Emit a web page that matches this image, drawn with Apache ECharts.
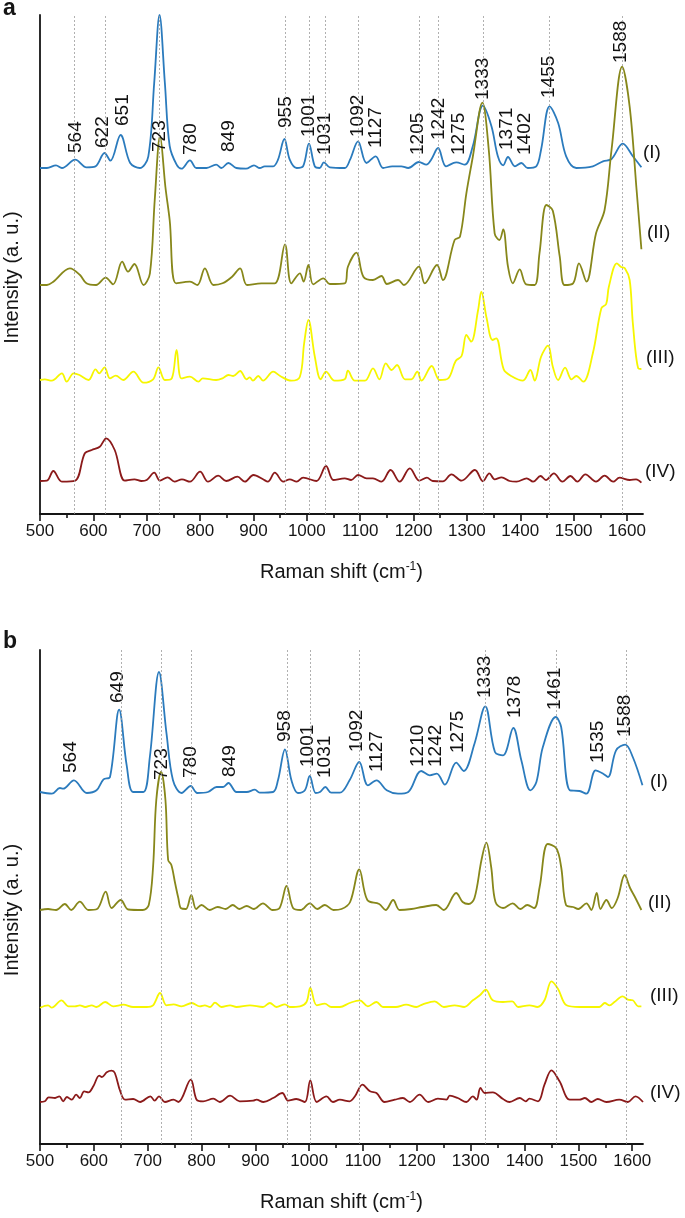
<!DOCTYPE html>
<html>
<head>
<meta charset="utf-8">
<script src="https://cdn.jsdelivr.net/npm/echarts@6/dist/echarts.min.js"></script>
<style>
  html, body { margin: 0; padding: 0; background: #fff; }
  #chart { width: 685px; height: 1218px; }
</style>
</head>
<body>
<div id="chart"></div>
<script>
// Raman spectra, [shift (cm-1), intensity above the trace baseline (a.u.)]
const aTraceI = [[500,0],[513,0],[530,2.7],[541,0],[566,8.3],[587,0.7],[604,1.7],[621,15],[632,7.3],[651,33],[669,5],[687,0],[703,11.7],[714,85],[724,153],[734,85],[743,22],[756,3.3],[765,-0.7],[781,7.7],[793,0],[812,0],[830,3.3],[840,0],[853,5],[868,0],[886,-0.7],[901,2.7],[912,0],[921,1.7],[937,1.7],[946,8.3],[958,29],[968,8.3],[981,0],[993,1.7],[1004,24.3],[1015,1.7],[1024,0],[1032,5.7],[1043,0.7],[1071,0],[1081,8.3],[1096,26.7],[1112,5],[1129,11.7],[1143,0],[1160,1.7],[1177,1.7],[1190,0],[1210,6],[1224,3.3],[1233,8.3],[1246,20],[1261,1.7],[1280,5.7],[1296,3.3],[1311,21.7],[1330,62.3],[1346,41.7],[1358,11.7],[1368,2.7],[1377,11],[1390,1.7],[1402,5],[1414,0],[1430,1.7],[1439,18.3],[1455,61.7],[1471,45],[1486,11.7],[1505,0],[1536,1.7],[1555,6.7],[1571,9],[1592,24.3],[1611,11.7],[1627,0.7]];
const aTraceII = [[500,0],[513,0],[525,3.3],[556,16.7],[575,10],[587,1.7],[605,0],[623,7.3],[637,0.7],[654,23.3],[665,13.3],[677,21],[694,0],[706,11.7],[715,85],[725,149],[735,98],[743,65],[755,1.7],[781,3.3],[795,0],[809,16.7],[825,0],[842,1.7],[860,8.3],[875,16.7],[888,0],[915,1.7],[940,1.7],[959,40.7],[971,1.7],[987,11.7],[994,3.3],[1003,20],[1012,0.7],[1031,6.7],[1043,1],[1071,1.7],[1077,18.3],[1093,32.3],[1106,8.3],[1124,5],[1140,9],[1150,1],[1171,5],[1182,0],[1210,18.3],[1221,1.7],[1244,20],[1255,5],[1277,45],[1287,48.3],[1299,91.7],[1311,128],[1329,182.3],[1341,135],[1352,51.7],[1361,45],[1368,55.7],[1377,18.3],[1386,1.7],[1399,15.7],[1411,0.7],[1427,0],[1436,31.7],[1449,80],[1461,74.3],[1474,28.3],[1483,0],[1499,1.7],[1510,21.7],[1524,3.3],[1542,51.7],[1558,75],[1571,135],[1591,218.3],[1605,178.3],[1618,95],[1627,35.7]];
const aTraceIII = [[500,0],[509,0.7],[522,-0.7],[541,6.7],[550,-1.7],[563,6.7],[574,5],[591,0],[604,10.7],[611,6.7],[621,12.7],[631,1.7],[642,4.3],[656,0],[675,8.3],[694,-2.7],[712,0.7],[722,12.7],[734,0],[747,1.7],[756,30],[765,1.7],[781,3.3],[797,-1.7],[805,1.7],[830,0],[842,1.7],[853,5],[862,4],[875,9],[887,0.7],[893,2.7],[899,-0.7],[909,4],[918,-0.7],[937,8.3],[950,4],[971,-0.7],[987,3.3],[995,36.7],[1003,60],[1015,23.3],[1026,0.7],[1036,8.3],[1052,-0.7],[1071,0.7],[1077,9.3],[1090,-0.7],[1109,-0.7],[1124,11.7],[1136,0.7],[1148,16.7],[1159,10],[1169,15],[1184,0.7],[1196,0.7],[1207,8.3],[1215,-0.7],[1234,14],[1249,0],[1265,1.7],[1279,19],[1290,24],[1299,45],[1308,38.3],[1321,70],[1327,88.3],[1337,61.7],[1348,40],[1355,41.7],[1369,10.7],[1383,4],[1405,-0.7],[1419,10],[1427,-0.7],[1439,23.3],[1452,34.3],[1461,13.3],[1471,0],[1484,12.3],[1496,0.7],[1505,4],[1518,-1.7],[1536,26.7],[1552,71.7],[1561,76],[1566,93.3],[1581,116.7],[1589,113],[1596,111.7],[1605,100],[1611,56.7],[1621,11.7],[1627,11]];
const aTraceIV = [[500,0],[513,0.3],[525,10],[541,-0.7],[566,0.3],[584,27.7],[597,31],[612,34.3],[624,42.7],[640,31],[659,0.3],[677,1.7],[690,0],[700,1],[714,8.3],[725,0.3],[739,3.7],[752,-0.7],[766,1.7],[781,-0.7],[800,9.3],[815,-0.7],[834,5.3],[849,0],[870,4.3],[884,-0.7],[900,6],[918,1.7],[927,-0.7],[940,8.3],[956,-0.7],[968,1.7],[981,-0.7],[993,3.3],[1018,0],[1036,15],[1050,1],[1071,2.7],[1083,1],[1096,6],[1112,2.7],[1124,2.7],[1140,-0.7],[1157,11],[1174,-0.7],[1193,12.7],[1211,0.3],[1225,3.3],[1236,0],[1255,-0.3],[1271,6.7],[1290,0.3],[1315,11],[1330,-0.3],[1342,7.7],[1352,1.7],[1365,3.7],[1380,0],[1393,-0.7],[1412,2.7],[1424,-0.7],[1438,5],[1448,1],[1463,7.7],[1479,-0.7],[1494,5],[1507,-0.7],[1522,6.7],[1542,-0.7],[1558,5.3],[1574,-0.7],[1586,3.3],[1605,1],[1617,1.7],[1627,-1.7]];

const bTraceI = [[500,1],[522,-0.7],[537,5],[543,4.3],[563,12.7],[587,0],[605,2.7],[618,13.7],[630,16],[647,83.3],[661,27.7],[673,1],[692,1],[704,36],[721,121],[735,59.3],[747,12.7],[763,0],[780,7],[792,0],[812,1],[828,6],[840,6],[850,10],[865,1],[884,1],[899,3.3],[908,0.3],[933,1],[942,12.7],[955,43.7],[967,12.7],[979,0],[992,2.7],[1001,17],[1012,0],[1020,1],[1030,6],[1041,0.3],[1057,0.3],[1075,12.7],[1093,31],[1109,7.7],[1125,12.7],[1144,2.7],[1165,-0.7],[1184,1],[1208,22],[1224,17.7],[1237,19.3],[1252,8.3],[1273,30.3],[1287,22],[1307,49.3],[1327,86.7],[1345,41],[1360,37.7],[1379,65],[1394,32.7],[1411,2.7],[1422,11],[1434,46],[1458,76],[1468,66],[1484,2.7],[1502,2],[1515,-0.7],[1532,22.7],[1546,19.3],[1555,16],[1570,42.7],[1587,48.3],[1601,36],[1619,7.7]];
const bTraceII = [[500,0],[515,1],[530,0],[546,6],[558,0],[574,8.3],[590,0],[606,1],[622,18.3],[633,2],[650,10],[664,0.5],[691,0],[702,5],[710,43],[716,110],[725,138.3],[733,110],[738,50],[744,45],[751,26.7],[757,11.7],[762,1.7],[771,1],[781,15],[790,1],[800,5],[815,0],[830,3],[845,1],[858,5],[870,1],[884,4],[897,1],[914,6.7],[932,0],[945,2],[958,24],[970,2],[984,0],[1001,6.7],[1015,1],[1029,5],[1045,0],[1060,1],[1076,8],[1093,40.7],[1108,10],[1130,6],[1142,0],[1156,10],[1168,0],[1190,1],[1210,3],[1236,5],[1250,0],[1273,17],[1285,8],[1296,6],[1307,12],[1320,50],[1329,67.3],[1338,43],[1346,8],[1360,2],[1378,6.7],[1392,1],[1405,5],[1418,2],[1428,23],[1443,66],[1459,61.7],[1468,43],[1477,5],[1490,3],[1500,1],[1515,6.7],[1524,0],[1534,17],[1541,1],[1552,10],[1562,2],[1573,12],[1586,35],[1596,22],[1605,13],[1617,0]];
const bTraceIII = [[500,-0.7],[515,1.7],[522,-0.7],[540,6.7],[553,0.7],[565,0.7],[574,1.7],[584,0],[596,1.7],[605,0],[621,5],[636,0.7],[655,2.3],[673,0],[698,0],[710,1.7],[723,14],[735,1.7],[748,2.7],[763,0.7],[782,4],[797,0.7],[806,1.7],[816,0],[825,4.3],[837,0],[853,1.7],[865,0],[890,1.7],[914,0],[927,4],[939,0],[955,2.7],[964,0],[983,0.7],[995,5],[1002,19.3],[1014,1.7],[1029,3.3],[1041,0],[1057,0],[1075,4],[1094,6.7],[1109,0.7],[1125,5],[1137,0],[1161,0],[1180,2.3],[1199,0],[1211,2.7],[1233,5.7],[1250,0],[1270,1.7],[1288,0],[1304,6.7],[1317,11.7],[1328,17.3],[1341,6.7],[1360,5],[1377,5.7],[1388,0],[1409,1.7],[1424,0],[1437,6.7],[1450,25.7],[1462,18.3],[1478,1.7],[1502,0],[1539,0],[1549,4],[1558,1.7],[1567,5],[1582,10.7],[1592,7.3],[1601,6.7],[1611,0.7],[1617,0.7]];
const bTraceIV = [[500,0],[509,0.7],[516,4.7],[528,4],[536,5.7],[543,0.7],[550,5],[559,2.3],[567,7.3],[574,4],[582,10.7],[590,9.7],[599,15.7],[610,26.3],[615,25],[624,29.7],[633,31.3],[639,29],[649,10.7],[658,2.3],[673,3],[686,0],[705,5.7],[713,1.3],[721,5.7],[732,0],[748,2.3],[757,0],[780,22.3],[791,2.3],[803,0.7],[822,3.3],[834,0],[853,6.3],[871,0.7],[896,1.3],[902,2.3],[915,0],[933,4],[950,9],[961,1.3],[976,3],[992,0],[1002,21.7],[1014,0],[1032,5.7],[1044,0],[1057,2.3],[1075,0.7],[1085,5.7],[1099,17.3],[1113,10.7],[1125,9],[1140,0],[1159,2.3],[1174,4],[1187,0],[1205,7.3],[1221,0],[1239,3.3],[1255,2.3],[1261,6.3],[1276,4],[1292,0],[1304,5.7],[1311,2.3],[1318,14],[1326,9],[1341,9.7],[1360,3],[1372,0],[1391,4],[1402,0.7],[1409,3.3],[1425,0.7],[1437,17.3],[1450,31.7],[1465,20.7],[1484,2.3],[1502,2.3],[1512,4],[1524,0],[1536,3],[1552,0],[1576,2.3],[1592,0],[1606,5.7],[1620,0]];

// vertical offsets of traces (I)..(IV)
const aOffsets = [346, 229, 134, 33];
const bOffsets = [351, 234, 137, 42];

// dotted reference lines
const aMarkers = [564, 623, 724, 960, 1005, 1035, 1096, 1210, 1246, 1330, 1454, 1591];
const bMarkers = [650, 725, 781, 959, 1002, 1093, 1327, 1459, 1588];

// peak labels: [text, shift, height where the text starts]
const aPeakLabels = [['564',567,361],['622',618,366],['651',655,388],['723',724,362],['780',782,359],['849',854,362],['955',961,386],['1001',1004,377],['1031',1034,359],['1092',1096,377],['1127',1129,366],['1205',1208,359],['1242',1247,374],['1275',1285,359],['1333',1330,414],['1371',1374,364],['1402',1408,359],['1455',1454,416],['1588',1589,451]];
const bPeakLabels = [['564',558,371],['649',645,441],['723',726,364],['780',780,366],['849',853,367],['958',955,402],['1001',998,377],['1031',1029,366],['1092',1089,392],['1127',1125,372],['1210',1202,377],['1242',1236,377],['1275',1276,391],['1333',1327,446],['1378',1382,426],['1461',1456,434],['1535',1536,381],['1588',1586,407]];

const traceNames = ['(I)', '(II)', '(III)', '(IV)'];
const xTicks = [500, 600, 700, 800, 900, 1000, 1100, 1200, 1300, 1400, 1500, 1600];
const xMinorTicks = [550, 650, 750, 850, 950, 1050, 1150, 1250, 1350, 1450, 1550];

const FONT = '"Liberation Sans", Arial, sans-serif';
const COLORS = ['#2b7bbd', '#87871a', '#f6f600', '#8b1a1a'];
const INK = '#151515';

const chart = echarts.init(document.getElementById('chart'), null, { renderer: 'canvas' });

function mainXAxis(gridIndex, max) {
    return {
        type: 'value', gridIndex, min: 500, max, position: 'bottom',
        axisLine: { show: true, onZero: false, lineStyle: { color: INK, width: 1.8 } },
        axisTick: { show: true, length: 7, customValues: xTicks, lineStyle: { color: INK, width: 1.6 } },
        axisLabel: {
            show: true, customValues: xTicks, margin: 9, fontSize: 17, color: INK, fontFamily: FONT,
            formatter: v => String(v),
        },
        splitLine: { show: false },
        name: 'Raman shift (cm{sup|-1})', nameLocation: 'middle', nameGap: 47,
        nameTextStyle: {
            fontSize: 20, color: INK, fontFamily: FONT,
            rich: { sup: { fontSize: 12, color: INK, fontFamily: FONT, verticalAlign: 'top', lineHeight: 22 } },
        },
    }
}

function minorXAxis(gridIndex, max) {
    return {
        type: 'value', gridIndex, min: 500, max, position: 'bottom',
        axisLine: { show: false },
        axisTick: { show: true, length: 4, customValues: xMinorTicks, lineStyle: { color: INK, width: 1.6 } },
        axisLabel: { show: false },
        splitLine: { show: false },
    }
}

function yAxis(gridIndex, max) {
    return {
        type: 'value', gridIndex, min: 0, max,
        axisLine: { show: true, onZero: false, lineStyle: { color: INK, width: 1.8 } },
        axisTick: { show: false },
        axisLabel: { show: false },
        splitLine: { show: false },
        name: 'Intensity (a. u.)', nameLocation: 'middle', nameGap: 18,
        nameTextStyle: { fontSize: 20, color: INK, fontFamily: FONT, padding: [0, 26, 0, 0] },
    }
}

function panelSeries(traces, offsets, markers, peakLabels, xIdx, yIdx) {
    const out = []
    out.push({
        type: 'line', xAxisIndex: xIdx, yAxisIndex: yIdx, data: [], z: 1, silent: true,
        markLine: {
            silent: true, symbol: ['none', 'none'], label: { show: false },
            lineStyle: { color: '#9c9c9c', width: 0.8, type: [2, 2] },
            data: markers.map(v => ({ xAxis: v })),
        },
    })
    traces.forEach((t, i) => {
        out.push({
            type: 'line', xAxisIndex: xIdx, yAxisIndex: yIdx, z: 2,
            name: traceNames[i], symbol: 'none', smooth: 0.35, clip: false,
            lineStyle: { color: COLORS[i], width: 1.8 },
            data: t.map(p => [p[0], p[1] + offsets[i]]),
        })
    })
    out.push({
        type: 'scatter', xAxisIndex: xIdx, yAxisIndex: yIdx, z: 3, silent: true,
        symbolSize: 1, itemStyle: { color: 'rgba(0,0,0,0)' },
        data: peakLabels.map(l => ({ name: l[0], value: [l[1], l[2]] })),
        label: {
            show: true, formatter: '{b}', rotate: 90, position: 'inside',
            align: 'left', verticalAlign: 'middle',
            fontSize: 19, color: '#111', opacity: 1, textBorderWidth: 0, fontFamily: FONT,
        },
    })
    return out
}

function romanLabels(xs, ys) {
    return traceNames.map((n, i) => ({
        type: 'text', x: xs[i], y: ys[i], silent: true,
        style: { text: n, fontSize: 19, fill: INK, fontFamily: FONT, verticalAlign: 'middle' },
    }))
}

const option = {
    animation: false,
    backgroundColor: '#fff',
    grid: [
        { left: 40, top: 15, width: 603, height: 499, containLabel: false, outerBoundsMode: 'none' },
        { left: 40, top: 650, width: 603, height: 494, containLabel: false, outerBoundsMode: 'none' },
    ],
    xAxis: [mainXAxis(0, 1630), minorXAxis(0, 1630), mainXAxis(1, 1620), minorXAxis(1, 1620)],
    yAxis: [yAxis(0, 499), yAxis(1, 494)],
    series: [
        ...panelSeries([aTraceI, aTraceII, aTraceIII, aTraceIV], aOffsets, aMarkers, aPeakLabels, 0, 0),
        ...panelSeries([bTraceI, bTraceII, bTraceIII, bTraceIV], bOffsets, bMarkers, bPeakLabels, 2, 1),
    ],
    graphic: [
        { type: 'text', x: 3, y: 9, silent: true, style: { text: 'a', fontSize: 23, fontWeight: 'bold', fill: INK, fontFamily: FONT, verticalAlign: 'middle' } },
        { type: 'text', x: 3, y: 642, silent: true, style: { text: 'b', fontSize: 23, fontWeight: 'bold', fill: INK, fontFamily: FONT, verticalAlign: 'middle' } },
        ...romanLabels([643, 647, 646, 645], [153, 233, 358, 472]),
        ...romanLabels([650, 648, 650, 650], [782, 903, 996, 1093]),
    ],
}

chart.setOption(option)
</script>
</body>
</html>
